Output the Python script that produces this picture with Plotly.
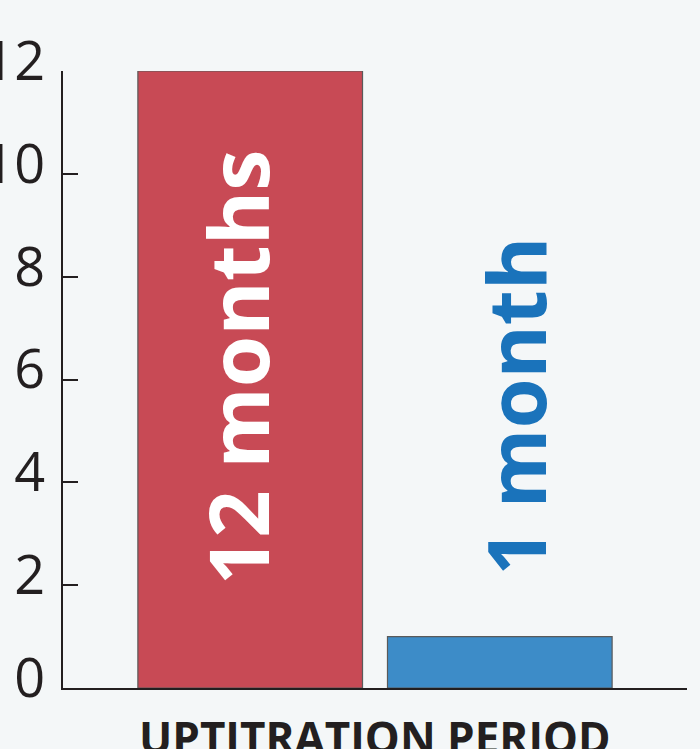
import plotly.graph_objects as go

categories = ["12 months", "1 month"]
values = [12, 1]
bar_colors = ["#c84a55", "#3d8cc8"]
label_colors = ["#ffffff", "#1a73bb"]
y_ticks = [0, 2, 4, 6, 8, 10, 12]
x_title = "UPTITRATION PERIOD"

xpos = list(range(len(categories)))

fig = go.Figure()
fig.add_trace(go.Bar(
    x=xpos, y=values, width=0.9,
    marker=dict(color=bar_colors, line=dict(color="#5a5a5a", width=1.2)),
    hoverinfo="skip", showlegend=False,
))

# labels: inside the tall bar, above the short bar
label_x = [xpos[0] - 0.057, xpos[1] + 0.06]
label_y = [values[0] * 0.52, 5.49]
label_size = [83, 81]
for i, cat in enumerate(categories):
    fig.add_annotation(
        x=label_x[i], y=label_y[i], xref="x", yref="y",
        text=cat, textangle=-90, showarrow=False,
        font=dict(family="Open Sans", size=label_size[i], color=label_colors[i], weight="bold"),
    )

# x-axis title (placed below the axis, partly beyond the page edge as in the original)
fig.add_annotation(
    x=0.5, y=0, xref="paper", yref="paper", xanchor="center", yanchor="top",
    yshift=-17, text=x_title, showarrow=False,
    font=dict(family="Open Sans", size=44, color="#231f20", weight="bold"),
)

bg = "#f4f7f8"
fig.update_layout(
    width=700, height=749,
    margin=dict(l=63, r=13, t=71, b=61),
    paper_bgcolor=bg, plot_bgcolor=bg,
    bargap=0.1,
)
fig.update_xaxes(
    range=[-0.75, 1.75], showgrid=False, zeroline=False,
    showline=True, linecolor="#231f20", linewidth=2,
    tickvals=[1.75], ticktext=[""], ticks="inside", ticklen=15, tickwidth=2, tickcolor="#231f20",
    automargin=False,
)
fig.update_yaxes(
    range=[0, 12], tickvals=y_ticks, showgrid=False, zeroline=False,
    showline=True, linecolor="#231f20", linewidth=2,
    ticks="inside", ticklen=15, tickwidth=2, tickcolor="#231f20",
    tickfont=dict(family="Open Sans", size=54, color="#231f20"),
    ticklabelstandoff=5, ticklabelshift=-10,
    automargin=False,
)

fig.write_html("out.html")
